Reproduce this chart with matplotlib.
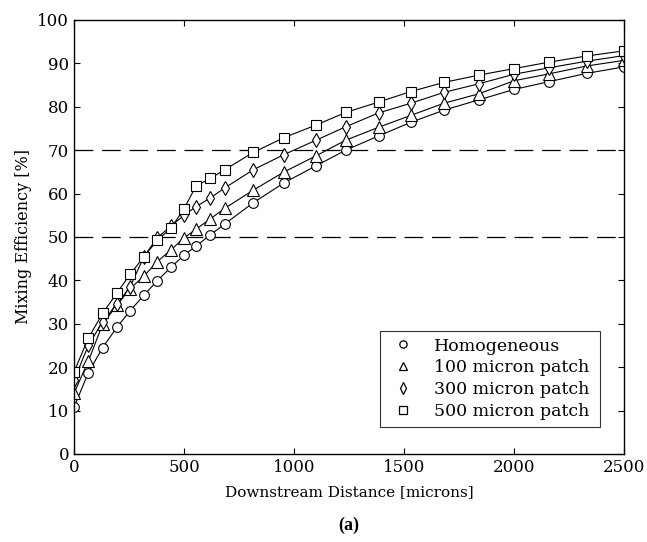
import matplotlib.pyplot as plt
from matplotlib.lines import Line2D

# downstream distance [microns]
distance = [0, 65, 130, 195, 255, 318, 378, 440, 500, 555, 620, 685,
            815, 955, 1100, 1235, 1385, 1530, 1680, 1840, 2000, 2160, 2330, 2500]

# mixing efficiency [%]
homogeneous = [10.8, 18.7, 24.5, 29.2, 33.0, 36.6, 39.9, 43.0, 45.8, 47.9, 50.5, 53.0,
               57.9, 62.5, 66.4, 70.0, 73.3, 76.4, 79.2, 81.6, 84.0, 85.8, 87.7, 89.2]
patch_100 = [14.0, 21.4, 29.9, 34.3, 38.1, 41.0, 44.3, 47.0, 49.8, 51.8, 54.2, 56.6,
             60.8, 65.0, 68.7, 72.3, 75.3, 78.0, 80.8, 83.0, 86.0, 87.6, 89.4, 90.7]
patch_300 = [17.0, 25.0, 30.5, 34.5, 38.5, 45.5, 49.8, 52.5, 55.0, 57.0, 59.0, 61.3,
             65.5, 69.0, 72.3, 75.4, 78.6, 80.8, 83.3, 85.3, 87.5, 89.0, 90.5, 91.8]
patch_500 = [18.9, 26.7, 32.4, 37.1, 41.4, 45.5, 49.2, 52.0, 56.5, 61.8, 63.5, 65.5,
             69.5, 72.9, 75.8, 78.7, 81.1, 83.5, 85.6, 87.3, 88.8, 90.3, 91.7, 92.9]

series = [homogeneous, patch_100, patch_300, patch_500]
labels = ["Homogeneous", "100 micron patch", "300 micron patch", "500 micron patch"]
markers = ["o", "^", "d", "s"]
marker_sizes = [7, 8, 7.5, 7]

threshold_levels = [50, 70]

plt.rcParams["font.family"] = ["DejaVu Serif"]

fig = plt.figure(figsize=(6.47, 5.42), dpi=100)
ax = fig.add_axes([0.1144, 0.1624, 0.8501, 0.8007])

for level in threshold_levels:
    ax.axhline(level, color="black", linestyle=(0, (15, 7)), linewidth=0.9)

for values, marker, ms in zip(series, markers, marker_sizes):
    ax.plot(distance, values, color="black", linewidth=0.8,
            marker=marker, markersize=ms, markerfacecolor="white",
            markeredgecolor="black", markeredgewidth=0.8)

ax.set_xlim(0, 2500)
ax.set_ylim(0, 100)
ax.set_xticks(range(0, 2501, 500))
ax.set_yticks(range(0, 101, 10))
ax.tick_params(direction="in", top=True, right=True, length=4,
               width=0.8, labelsize=12)
for side in ax.spines.values():
    side.set_linewidth(1.0)

ax.set_xlabel("Downstream Distance [microns]", fontsize=11, labelpad=7)
ax.set_ylabel("Mixing Efficiency [%]", fontsize=11.5, labelpad=4)

handles = [Line2D([], [], linestyle="none", marker=m, markersize=ms * 0.75,
                  markerfacecolor="white", markeredgecolor="black",
                  markeredgewidth=0.9)
           for m, ms in zip(markers, marker_sizes)]
leg = ax.legend(handles, labels, loc="lower left",
                bbox_to_anchor=(0.556, 0.062, 0.4, 0.214), mode="expand",
                fontsize=12.5, frameon=True, fancybox=False, handlelength=1.84,
                handletextpad=0.9, borderpad=0.4, labelspacing=0.28,
                borderaxespad=0)
leg.get_frame().set_edgecolor("black")
leg.get_frame().set_linewidth(0.8)

fig.text(0.5394, 0.030, "(a)", ha="center", va="center", fontsize=13,
         fontweight="bold", family="Liberation Serif")

fig.savefig("out.png", dpi=100)
